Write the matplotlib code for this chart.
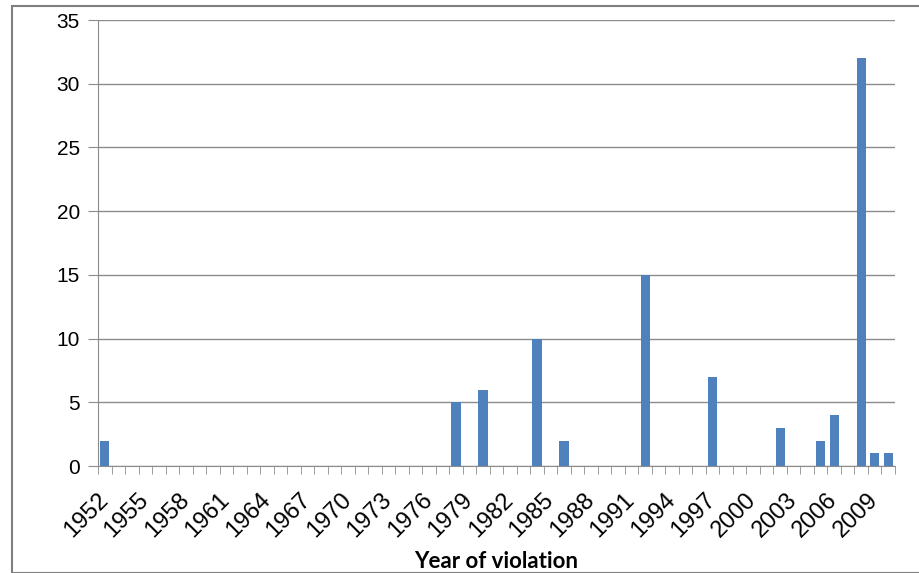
import matplotlib.pyplot as plt
from matplotlib.patches import Rectangle

years = list(range(1952, 2011))
violation_years = [1952, 1978, 1980, 1984, 1986, 1992, 1997, 2002, 2005, 2006, 2008, 2009, 2010]
violation_counts = [2, 5, 6, 10, 2, 15, 7, 3, 2, 4, 32, 1, 1]
y_ticks = [0, 5, 10, 15, 20, 25, 30, 35]


def main():
    counts = dict(zip(violation_years, violation_counts))
    values = [counts.get(y, 0) for y in years]
    pos = list(range(len(years)))

    fig = plt.figure(figsize=(9.19, 5.73), dpi=100)
    fig.patches.append(Rectangle((12 / 919, 0), 1.2, 1 - 6 / 573, transform=fig.transFigure,
                                 fill=False, edgecolor="#7f7f7f", linewidth=1.5))
    ax = fig.add_axes([98 / 919, 107 / 573, 797 / 919, 446 / 573])

    ax.bar(pos, values, width=0.68, color="#4f81bd", zorder=3)

    ax.set_xlim(-0.5, len(years) - 0.5)
    ax.set_ylim(0, 35)
    ax.set_yticks(y_ticks)
    ax.set_yticklabels([str(t) for t in y_ticks], fontsize=15, family="Liberation Sans")
    ax.yaxis.grid(True, color="#8c8c8c", linewidth=1)
    ax.tick_params(axis="y", length=7, color="#8c8c8c", pad=6)

    label_pos = pos[::3]
    ax.set_xticks(label_pos)
    ax.set_xticklabels([str(years[i]) for i in label_pos], rotation=45, ha="right",
                       va="center", rotation_mode="anchor", fontsize=17,
                       family="Liberation Sans")
    ax.set_xticks([p - 0.5 for p in pos] + [len(years) - 0.5], minor=True)
    ax.tick_params(axis="x", which="major", length=0, pad=22)
    ax.tick_params(axis="x", which="minor", length=6, color="#8c8c8c")
    ax.set_xlabel("Year of violation", fontsize=16, fontweight="bold", family="Lato")
    ax.xaxis.set_label_coords(0.5, -0.19)

    for side in ["top", "right"]:
        ax.spines[side].set_visible(False)
    for side in ["left", "bottom"]:
        ax.spines[side].set_color("#8c8c8c")

    fig.savefig("out.png", dpi=100)


if __name__ == "__main__":
    main()
